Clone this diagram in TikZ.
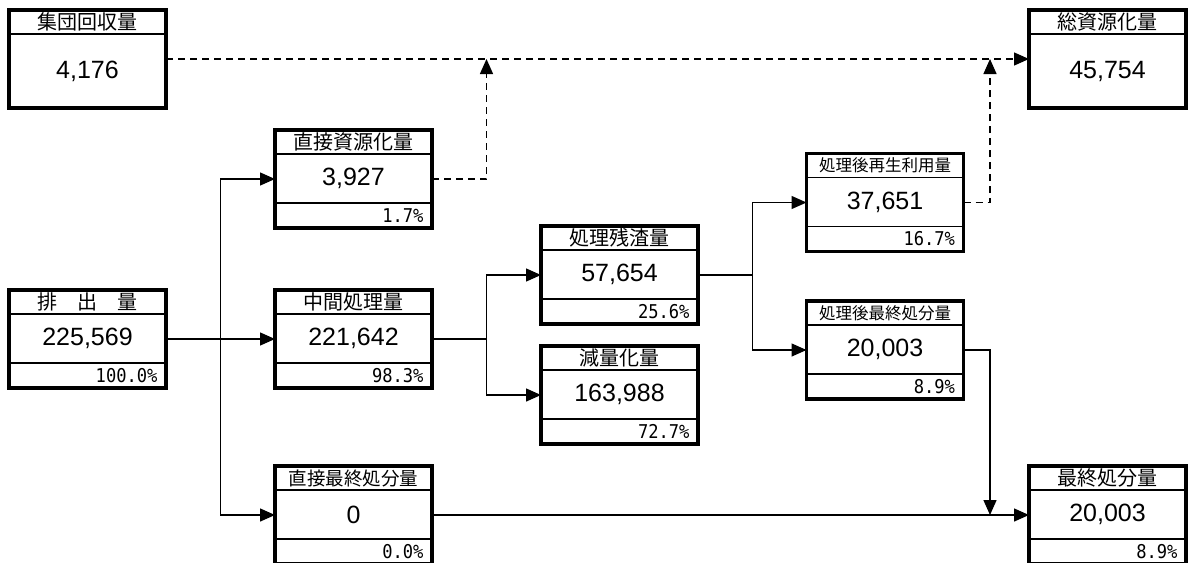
\documentclass[tikz,border=0pt]{standalone}
\usepackage{fontspec}
\setmainfont{Liberation Sans}
\newfontfamily\jpfont{Noto Sans CJK JP}
\newfontfamily\pctfont[FakeStretch=0.9]{DejaVu Sans Mono}
\usetikzlibrary{positioning,calc,arrows.meta}
\begin{document}
\begin{tikzpicture}[x=1pt,y=-1pt,
    frame/.style={draw,line width=3.4pt,minimum width=157pt,minimum height=98pt,inner sep=0pt,outer sep=0pt},
    head/.style={draw,line width=1.2pt,minimum width=157pt,minimum height=24pt,inner sep=0pt,outer sep=0pt,font=\jpfont\fontsize{20}{20}\selectfont},
    val/.style={draw,line width=1.2pt,minimum width=157pt,minimum height=49pt,inner sep=0pt,outer sep=0pt,font=\fontsize{25}{25}\selectfont},
    bigval/.style={val,minimum height=74pt},
    pct/.style={draw,line width=1.2pt,minimum width=157pt,minimum height=25pt,inner sep=0pt,outer sep=0pt,text width=140pt,align=right,font=\pctfont\fontsize{19}{19}\selectfont},
    flow/.style={line width=1.4pt,-{Triangle[length=15pt,width=13pt]}},
    plain/.style={line width=1.4pt},
    dline/.style={line width=1.4pt,dash pattern=on 7pt off 5pt}
  ]
  \useasboundingbox (0,0) rectangle (1188,562);

  % box contents
  \node[head] (shudan-h) at (87.5,22) {集団回収量};
  \node[bigval, below=0pt of shudan-h] (shudan-v) {4,176};

  \node[head] (haishutsu-h) at (87.5,302) {排\hspace{1em}出\hspace{1em}量};
  \node[val, below=0pt of haishutsu-h] (haishutsu-v) {225,569};
  \node[pct, below=0pt of haishutsu-v] (haishutsu-p) {100.0\%};

  \node[head] (chokushigen-h) at (353.5,142) {直接資源化量};
  \node[val, below=0pt of chokushigen-h] (chokushigen-v) {3,927};
  \node[pct, below=0pt of chokushigen-v] (chokushigen-p) {1.7\%};

  \node[head] (chukan-h) at (353.5,302) {中間処理量};
  \node[val, below=0pt of chukan-h] (chukan-v) {221,642};
  \node[pct, below=0pt of chukan-v] (chukan-p) {98.3\%};

  \node[head, font=\jpfont\fontsize{18.5}{18.5}\selectfont] (chokusai-h) at (353.5,478) {直接最終処分量};
  \node[val, below=0pt of chokusai-h] (chokusai-v) {0};
  \node[pct, below=0pt of chokusai-v] (chokusai-p) {0.0\%};

  \node[head] (zanshi-h) at (619.5,238) {処理残渣量};
  \node[val, below=0pt of zanshi-h] (zanshi-v) {57,654};
  \node[pct, below=0pt of zanshi-v] (zanshi-p) {25.6\%};

  \node[head] (genryo-h) at (619.5,358) {減量化量};
  \node[val, below=0pt of genryo-h] (genryo-v) {163,988};
  \node[pct, below=0pt of genryo-v] (genryo-p) {72.7\%};

  \node[head, font=\jpfont\fontsize{16.5}{16.5}\selectfont] (saisei-h) at (885,165.5) {処理後再生利用量};
  \node[val, below=0pt of saisei-h] (saisei-v) {37,651};
  \node[pct, below=0pt of saisei-v] (saisei-p) {16.7\%};

  \node[head, font=\jpfont\fontsize{16.5}{16.5}\selectfont] (shogosai-h) at (885,313) {処理後最終処分量};
  \node[val, below=0pt of shogosai-h] (shogosai-v) {20,003};
  \node[pct, below=0pt of shogosai-v] (shogosai-p) {8.9\%};

  \node[head] (soshigen-h) at (1107.5,22) {総資源化量};
  \node[bigval, below=0pt of soshigen-h] (soshigen-v) {45,754};

  \node[head] (saishu-h) at (1107.5,478) {最終処分量};
  \node[val, below=0pt of saishu-h] (saishu-v) {20,003};
  \node[pct, below=0pt of saishu-v] (saishu-p) {8.9\%};

  % outer frames
  \begin{scope}[every node/.style={frame}]
    \node (shudan) at (87.5,59) {};
    \node (haishutsu) at (87.5,339) {};
    \node (chokushigen) at (353.5,179) {};
    \node (chukan) at (353.5,339) {};
    \node (chokusai) at (353.5,515) {};
    \node (zanshi) at (619.5,275) {};
    \node (genryo) at (619.5,395) {};
    \node (saisei) at (885,202.5) {};
    \node (shogosai) at (885,350) {};
    \node (soshigen) at (1107.5,59) {};
    \node (saishu) at (1107.5,515) {};
  \end{scope}

  % branch points
  \coordinate (j1) at ($(haishutsu.east)!0.5!(chukan.west)$);
  \coordinate (j2) at ($(chukan.east)!0.5!(chukan.east -| zanshi.west)$);
  \coordinate (j3) at ($(zanshi.east)!0.5!(zanshi.east -| saisei.west)$);
  \coordinate (r1) at (990,59);
  \coordinate (r2) at (990,515);

  \begin{scope}
    \path [flow] (haishutsu) edge (chukan);
    \draw [flow] (j1) |- (chokushigen.west);
    \draw [flow] (j1) |- (chokusai.west);
    \draw [plain] (chukan.east) -- (j2);
    \draw [flow] (j2) |- (zanshi.west);
    \draw [flow] (j2) |- (genryo.west);
    \draw [plain] (zanshi.east) -- (j3);
    \draw [flow] (j3) |- (saisei.west);
    \draw [flow] (j3) |- (shogosai.west);
    \draw [flow] (shogosai.east) -| (r2);
    \path [flow] (chokusai) edge (saishu);
    \path [flow,dline] (shudan) edge (soshigen);
    \draw [flow,dline] (chokushigen.east) -| (j2 |- shudan.east);
    \draw [flow,dline] (saisei.east) -| (r1);
  \end{scope}
\end{tikzpicture}
\end{document}
